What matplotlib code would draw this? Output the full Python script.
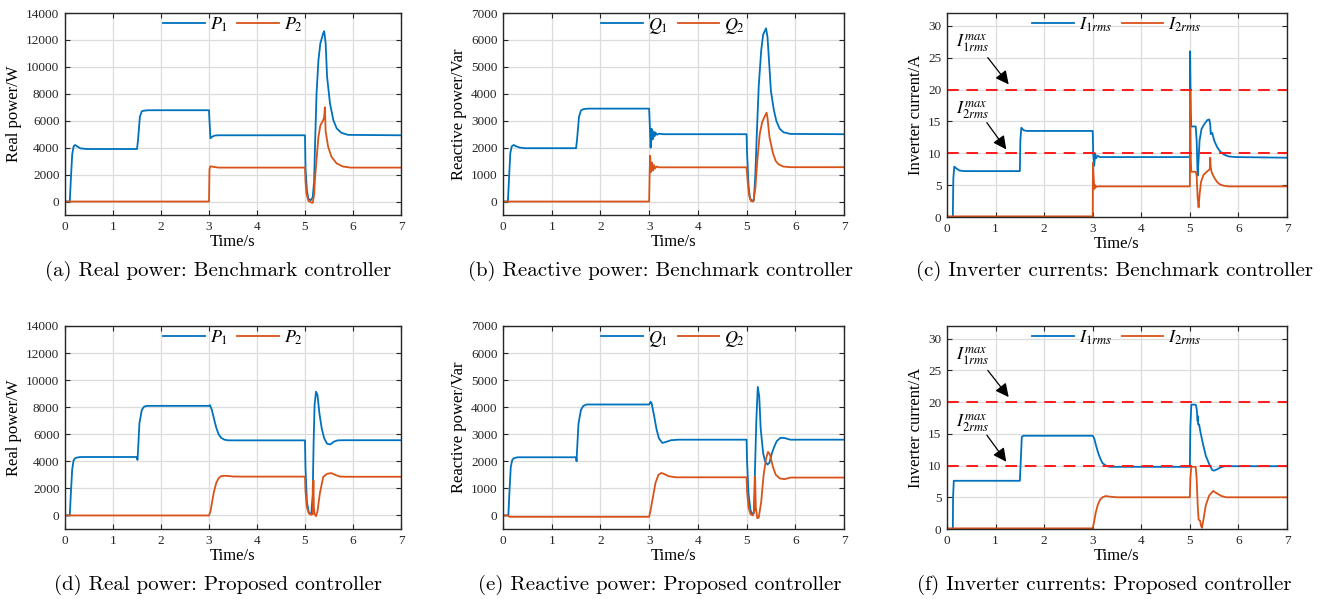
import matplotlib
matplotlib.use('Agg')
import matplotlib.pyplot as plt

plt.rcParams['font.family'] = ['Liberation Serif', 'DejaVu Serif']
plt.rcParams['mathtext.fontset'] = 'stix'

BLUE = '#0072BD'
ORANGE = '#D95319'

# (a) real power, benchmark controller
t_a1 = [0, 0.10, 0.12, 0.15, 0.18, 0.21, 0.25, 0.32, 0.45, 1.50, 1.52, 1.56, 1.60, 1.65, 1.75,
        3.00, 3.01, 3.03, 3.06, 3.12, 3.20, 5.00, 5.01, 5.04, 5.07, 5.12, 5.16, 5.19, 5.21, 5.24,
        5.28, 5.32, 5.38, 5.40, 5.43, 5.46, 5.52, 5.59, 5.66, 5.76, 5.90, 7.0]
p_a1 = [0, 0, 1500, 3500, 4100, 4200, 4100, 3950, 3900, 3900, 4500, 6300, 6700, 6750, 6780,
        6780, 6000, 4700, 4800, 4900, 4920, 4920, 2500, 800, 200, 100, 300, 1500, 4300, 8000,
        10500, 11750, 12500, 12650, 11750, 9270, 7300, 6050, 5430, 5100, 4950, 4920]
t_a2 = [0, 3.00, 3.01, 3.03, 3.08, 3.20, 5.00, 5.01, 5.03, 5.07, 5.12, 5.16, 5.19, 5.21, 5.24,
        5.28, 5.32, 5.38, 5.40, 5.415, 5.43, 5.48, 5.55, 5.66, 5.79, 5.95, 7.0]
p_a2 = [0, 0, 2400, 2620, 2580, 2520, 2520, 1500, 600, 50, -50, -100, 500, 1800, 3100,
        4800, 5650, 6050, 6300, 7000, 5200, 4100, 3330, 2830, 2600, 2520, 2520]

# (b) reactive power, benchmark controller
t_b1 = [0, 0.10, 0.12, 0.15, 0.18, 0.22, 0.27, 0.35, 0.45, 1.50, 1.52, 1.56, 1.60, 1.65, 1.75,
        3.00, 3.01, 3.03, 3.05, 3.07, 3.09, 3.11, 3.13, 3.16, 3.20, 3.30, 5.00, 5.01, 5.04, 5.07,
        5.12, 5.15, 5.18, 5.21, 5.25, 5.30, 5.34, 5.40, 5.43, 5.46, 5.50, 5.56, 5.61, 5.68, 5.76,
        5.90, 7.0]
q_b1 = [0, 0, 700, 1800, 2050, 2100, 2050, 2000, 1980, 1980, 2300, 3150, 3380, 3430, 3450,
        3450, 3000, 2000, 2700, 2300, 2600, 2420, 2560, 2480, 2520, 2500, 2500, 1800, 600, 100,
        30, 50, 1000, 2500, 4300, 5600, 6200, 6430, 6100, 5250, 4100, 3400, 3000, 2700, 2570,
        2510, 2500]
t_b2 = [0, 3.00, 3.01, 3.02, 3.04, 3.06, 3.08, 3.10, 3.12, 3.15, 3.20, 5.00, 5.02, 5.05, 5.09,
        5.14, 5.18, 5.22, 5.27, 5.32, 5.37, 5.41, 5.43, 5.47, 5.54, 5.60, 5.66, 5.75, 5.90, 7.0]
q_b2 = [0, 0, 1000, 1700, 1100, 1450, 1150, 1350, 1220, 1300, 1270, 1270, 800, 250, 20,
        0, 500, 1500, 2500, 2950, 3150, 3300, 3100, 2400, 1800, 1500, 1380, 1300, 1275, 1275]

# (c) inverter currents, benchmark controller
t_c1 = [0, 0.12, 0.13, 0.15, 0.18, 0.25, 0.35, 1.50, 1.51, 1.53, 1.58, 1.65, 3.00, 3.01, 3.03,
        3.05, 3.07, 3.10, 3.15, 5.00, 5.005, 5.02, 5.03, 5.12, 5.14, 5.16, 5.18, 5.20, 5.24, 5.30,
        5.36, 5.40, 5.42, 5.43, 5.46, 5.50, 5.56, 5.62, 5.70, 5.80, 5.95, 7.0]
i_c1 = [0, 0, 6.0, 7.9, 7.7, 7.3, 7.2, 7.2, 12, 14.0, 13.6, 13.5, 13.5, 10, 8.0,
        10.0, 9.2, 9.6, 9.4, 9.4, 26.0, 16, 14.2, 14.2, 12, 6.5, 9, 12.0, 13.8, 14.6,
        15.2, 15.3, 14.5, 13.0, 13.2, 12.0, 11.0, 10.3, 9.8, 9.5, 9.4, 9.3]
t_c2 = [0, 3.00, 3.005, 3.02, 3.035, 3.05, 3.07, 3.10, 5.00, 5.005, 5.02, 5.03, 5.12, 5.14,
        5.16, 5.18, 5.20, 5.23, 5.28, 5.35, 5.41, 5.42, 5.43, 5.45, 5.50, 5.56, 5.62, 5.70, 5.80, 7.0]
i_c2 = [0.1, 0.1, 8.5, 6, 4.4, 5.0, 4.7, 4.8, 4.8, 19.8, 9, 7.1, 7.1, 6.5,
        3.0, 1.5, 3.5, 5.5, 6.6, 7.1, 7.5, 9.3, 7.8, 7.0, 6.2, 5.5, 5.1, 4.9, 4.8, 4.8]

# (d) real power, proposed controller
t_d1 = [0, 0.10, 0.12, 0.15, 0.18, 0.22, 0.28, 0.35, 1.50, 1.51, 1.52, 1.55, 1.60, 1.65, 1.72,
        3.00, 3.02, 3.06, 3.10, 3.15, 3.20, 3.25, 3.32, 3.40, 3.50, 3.70, 5.00, 5.01, 5.04, 5.08,
        5.13, 5.16, 5.18, 5.20, 5.23, 5.26, 5.30, 5.35, 5.40, 5.46, 5.53, 5.60, 5.68, 5.80, 7.0]
p_d1 = [0, 0, 1500, 3400, 4100, 4250, 4300, 4320, 4320, 4100, 4700, 6800, 7800, 8050, 8100,
        8100, 8150, 7800, 7200, 6500, 6000, 5750, 5600, 5550, 5550, 5550, 5550, 3500, 1000, 200,
        100, 1500, 5500, 8200, 9150, 8900, 7550, 6400, 5700, 5300, 5250, 5450, 5550, 5560, 5560]
t_d2 = [0, 3.00, 3.03, 3.06, 3.10, 3.15, 3.20, 3.25, 3.32, 3.40, 3.50, 3.70, 5.00, 5.01, 5.04,
        5.08, 5.13, 5.16, 5.175, 5.185, 5.20, 5.23, 5.26, 5.31, 5.38, 5.46, 5.55, 5.63, 5.72, 5.85, 7.0]
p_d2 = [0, 0, 300, 900, 1700, 2400, 2750, 2900, 2930, 2920, 2880, 2870, 2870, 1800, 600,
        150, 50, 100, 2600, 600, 100, -50, 300, 1650, 2850, 3080, 3130, 3000, 2880, 2860, 2860]

# (e) reactive power, proposed controller
t_e1 = [0, 0.11, 0.13, 0.16, 0.19, 0.23, 0.30, 1.50, 1.51, 1.52, 1.55, 1.60, 1.65, 1.72, 3.00,
        3.03, 3.05, 3.10, 3.15, 3.20, 3.27, 3.35, 3.45, 3.60, 5.00, 5.01, 5.04, 5.08, 5.12, 5.15,
        5.17, 5.20, 5.23, 5.26, 5.29, 5.34, 5.38, 5.43, 5.47, 5.52, 5.57, 5.62, 5.70, 5.78, 5.90, 7.0]
q_e1 = [0, 0, 800, 1800, 2050, 2120, 2150, 2150, 2000, 2400, 3400, 3900, 4050, 4100, 4100,
        4200, 4150, 3700, 3200, 2850, 2680, 2720, 2780, 2800, 2800, 2000, 800, 200, 50, 100,
        1500, 3500, 4750, 4400, 3200, 2300, 2000, 1880, 1950, 2300, 2550, 2750, 2870, 2860, 2800, 2800]
t_e2 = [0, 0.10, 0.13, 3.00, 3.03, 3.08, 3.13, 3.19, 3.25, 3.30, 3.40, 3.55, 5.00, 5.01, 5.04,
        5.08, 5.13, 5.165, 5.175, 5.19, 5.22, 5.25, 5.30, 5.35, 5.40, 5.44, 5.48, 5.54, 5.60, 5.68,
        5.78, 5.90, 7.0]
q_e2 = [0, 0, -50, -50, 200, 700, 1200, 1500, 1570, 1540, 1450, 1410, 1410, 900, 300,
        50, 0, 200, 1450, 300, -100, -80, 500, 1500, 2100, 2350, 2250, 1800, 1500, 1370,
        1340, 1400, 1400]

# (f) inverter currents, proposed controller
t_f1 = [0, 0.12, 0.125, 0.14, 1.50, 1.52, 1.54, 1.57, 3.00, 3.03, 3.06, 3.10, 3.15, 3.20, 3.27,
        3.35, 3.50, 5.00, 5.01, 5.03, 5.12, 5.14, 5.16, 5.165, 5.17, 5.19, 5.22, 5.27, 5.33, 5.40,
        5.46, 5.50, 5.56, 5.63, 5.72, 5.80, 7.0]
i_f1 = [0, 0, 5, 7.6, 7.6, 11, 14.5, 14.7, 14.7, 14.3, 13.4, 12.3, 11.2, 10.4, 10.0,
        9.8, 9.8, 9.8, 16, 19.6, 19.6, 19.0, 17, 17.8, 16.5, 16.5, 15.2, 13.4, 11.5, 10.2,
        9.3, 9.2, 9.4, 9.7, 9.9, 9.9, 9.9]
t_f2 = [0, 3.00, 3.03, 3.06, 3.10, 3.15, 3.20, 3.27, 3.35, 3.50, 5.00, 5.01, 5.03, 5.12, 5.14,
        5.16, 5.18, 5.21, 5.23, 5.25, 5.28, 5.33, 5.40, 5.48, 5.56, 5.65, 5.75, 7.0]
i_f2 = [0.1, 0.1, 1.2, 2.5, 3.7, 4.6, 5.0, 5.2, 5.1, 5.0, 5.0, 8, 9.8, 9.8, 8,
        4, 1.5, 1.3, 0.5, 0.2, 1.5, 3.8, 5.3, 6.0, 5.6, 5.2, 5.0, 5.0]

i1_max = 20
i2_max = 10

captions = ['(a) Real power: Benchmark controller',
            '(b) Reactive power: Benchmark controller',
            '(c) Inverter currents: Benchmark controller',
            '(d) Real power: Proposed controller',
            '(e) Reactive power: Proposed controller',
            '(f) Inverter currents: Proposed controller']

W, H = 1332, 599
fig = plt.figure(figsize=(W / 100, H / 100), dpi=100)


def make_ax(l, r, t, b):
    ax = fig.add_axes([l / W, 1 - b / H, (r - l) / W, (b - t) / H])
    ax.set_xlim(0, 7)
    ax.set_xticks(range(8))
    ax.grid(True, color='#dcdcdc', lw=0.9)
    ax.set_axisbelow(True)
    ax.tick_params(direction='in', top=True, right=True, length=3.5, width=0.8,
                   labelsize=9.5, colors='#262626', pad=4)
    for s in ax.spines.values():
        s.set_color('#262626')
        s.set_linewidth(1.0)
    ax.set_xlabel('Time/s', fontsize=12, labelpad=1)
    return ax


def add_legend(ax, labels):
    ax.legend(labels, loc='upper center', ncol=2, frameon=False, fontsize=13,
              handlelength=2.3, handletextpad=0.3, columnspacing=0.5,
              borderaxespad=0.0, borderpad=0.15)


def add_limits(ax):
    ax.axhline(i1_max, color='#ff1a1a', lw=1.4, ls=(0, (6, 4)))
    ax.axhline(i2_max, color='#ff1a1a', lw=1.4, ls=(0, (6, 4)))


rows = [(13, 215, 13, 217), (326, 529, 326, 529)]
cols = [(65, 401), (503, 844), (947, 1287)]

for r, (t_p, b_p, t_i, b_i) in enumerate(rows):
    # real power
    ax = make_ax(cols[0][0], cols[0][1], t_p, b_p)
    if r == 0:
        ax.plot(t_a1, p_a1, color=BLUE, lw=1.3)
        ax.plot(t_a2, p_a2, color=ORANGE, lw=1.3)
    else:
        ax.plot(t_d1, p_d1, color=BLUE, lw=1.3)
        ax.plot(t_d2, p_d2, color=ORANGE, lw=1.3)
    ax.set_ylim(-1000, 14000)
    ax.set_yticks(range(0, 14001, 2000))
    ax.set_ylabel('Real power/W', fontsize=12, labelpad=3)
    add_legend(ax, [r'$P_{\mathit{1}}$', r'$P_{\mathit{2}}$'])

    # reactive power
    ax = make_ax(cols[1][0], cols[1][1], t_p, b_p)
    if r == 0:
        ax.plot(t_b1, q_b1, color=BLUE, lw=1.3)
        ax.plot(t_b2, q_b2, color=ORANGE, lw=1.3)
    else:
        ax.plot(t_e1, q_e1, color=BLUE, lw=1.3)
        ax.plot(t_e2, q_e2, color=ORANGE, lw=1.3)
    ax.set_ylim(-500, 7000)
    ax.set_yticks(range(0, 7001, 1000))
    ax.set_ylabel('Reactive power/Var', fontsize=12, labelpad=3)
    add_legend(ax, [r'$Q_{\mathit{1}}$', r'$Q_{\mathit{2}}$'])

    # currents
    ax = make_ax(cols[2][0], cols[2][1], t_i, b_i)
    if r == 0:
        ax.plot(t_c1, i_c1, color=BLUE, lw=1.3)
        ax.plot(t_c2, i_c2, color=ORANGE, lw=1.3)
    else:
        ax.plot(t_f1, i_f1, color=BLUE, lw=1.3)
        ax.plot(t_f2, i_f2, color=ORANGE, lw=1.3)
    add_legend(ax, [r'$I_{\mathit{1rms}}$', r'$I_{\mathit{2rms}}$'])
    add_limits(ax)
    ax.set_ylim(0, 32)
    ax.set_yticks(range(0, 31, 5))
    ax.set_ylabel('Inverter current/A', fontsize=12, labelpad=3)
    arw = dict(arrowstyle='-|>', color='k', lw=0.9, mutation_scale=20, shrinkA=0, shrinkB=0)
    ax.annotate('', xy=(1.27, 20.8), xytext=(0.84, 25.0), arrowprops=arw)
    ax.annotate('', xy=(1.22, 10.6), xytext=(0.82, 14.8), arrowprops=arw)
    ax.text(0.52, 27.3, r'$I_{\mathit{1rms}}^{\mathit{max}}$', fontsize=13, ha='center', va='center')
    ax.text(0.52, 16.7, r'$I_{\mathit{2rms}}^{\mathit{max}}$', fontsize=13, ha='center', va='center')

cap_x = [218, 660, 1115, 218, 660, 1104]
cap_y = [271, 271, 271, 585, 585, 585]
for i, txt in enumerate(captions):
    fig.text(cap_x[i] / W, 1 - cap_y[i] / H, txt, family='cmr10', fontsize=15,
             ha='center', va='center')

fig.savefig('out.png', dpi=100)
